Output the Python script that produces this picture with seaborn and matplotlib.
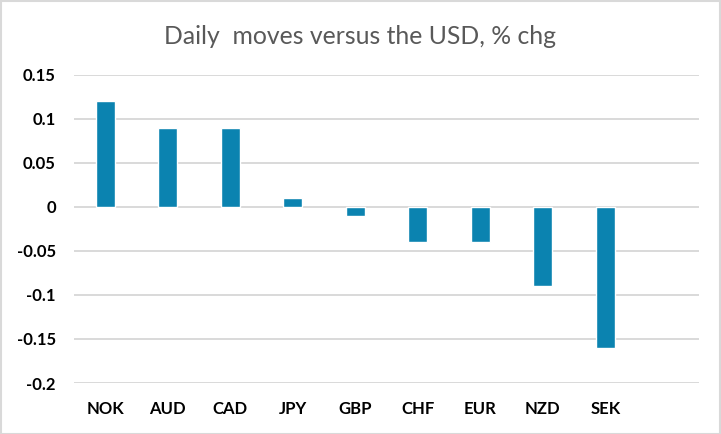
import matplotlib
matplotlib.use("Agg")
import matplotlib.pyplot as plt
import seaborn as sns
import pandas as pd
from matplotlib.patches import Rectangle

currencies = ["NOK", "AUD", "CAD", "JPY", "GBP", "CHF", "EUR", "NZD", "SEK"]
changes = [0.12, 0.09, 0.09, 0.01, -0.01, -0.04, -0.04, -0.09, -0.16]
yticks = [-0.2, -0.15, -0.1, -0.05, 0, 0.05, 0.1, 0.15]
ytick_labels = ["-0.2", "-0.15", "-0.1", "-0.05", "0", "0.05", "0.1", "0.15"]
title = "Daily  moves versus the USD, % chg"

sns.set_theme(style="white")
plt.rcParams["font.family"] = ["Lato", "DejaVu Sans"]

df = pd.DataFrame({"ccy": currencies, "chg": changes})

fig = plt.figure(figsize=(7.21, 4.34), dpi=100)
ax = fig.add_axes([74 / 721, 1 - 383 / 434, 625 / 721, (383 - 74.7) / 434])

sns.barplot(data=df, x="ccy", y="chg", order=currencies, color="#0B83B0",
            saturation=1, width=0.31, ax=ax, zorder=3)

ax.set_xlim(-0.5, 9.5)
ax.set_ylim(-0.2, 0.15)
ax.set_yticks(yticks)
ax.set_yticklabels(ytick_labels, fontsize=12, fontweight="bold", color="#000000")
ax.set_xticks(range(len(currencies)))
ax.set_xticklabels(currencies, fontsize=12, fontweight="bold", color="#000000")
ax.tick_params(axis="y", length=0, pad=13)
ax.tick_params(axis="x", length=0, pad=13)
ax.set_xlabel("")
ax.set_ylabel("")
for s in ax.spines.values():
    s.set_visible(False)
ax.grid(axis="y", color="#D9D9D9", linewidth=1.4, zorder=0)
ax.grid(axis="x", visible=False)
ax.set_axisbelow(True)

fig.text(0.5, 1 - 36 / 434, title, ha="center", va="center", fontsize=17.8,
         color="#595959")

fig.add_artist(Rectangle((0.5 / 721, 0.5 / 434), 719.5 / 721, 433 / 434,
                         transform=fig.transFigure, fill=False,
                         edgecolor="#D9D9D9", linewidth=1.5))

fig.savefig("out.png", dpi=100)
